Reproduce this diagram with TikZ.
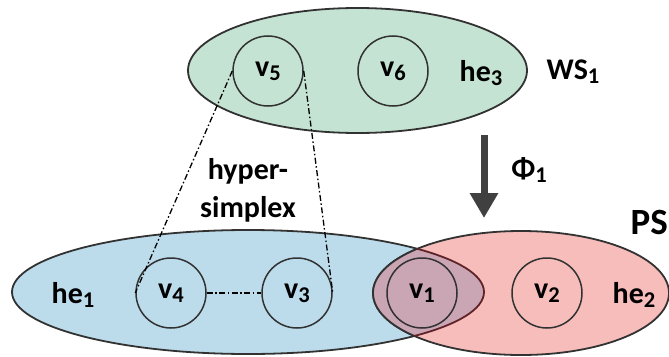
\documentclass[tikz,border=0pt]{standalone}
\usepackage{fontspec}
\setmainfont{Carlito}
\usetikzlibrary{shapes.geometric,arrows.meta}

\definecolor{wsgreen}{RGB}{197,227,211}
\definecolor{heblue}{RGB}{188,220,236}
\definecolor{hered}{RGB}{246,189,187}
\definecolor{hemix}{RGB}{202,166,180}
\definecolor{edgegray}{RGB}{50,50,50}
\definecolor{edgered}{RGB}{95,35,40}
\definecolor{arrowgray}{RGB}{64,64,64}

% lowered, smaller index digit
\newcommand\idx[1]{\raisebox{-0.28ex}{\scalebox{0.75}{#1}}}

\tikzset{
  lbl/.style={font=\bfseries\fontsize{30}{36}\selectfont, inner sep=0pt},
  hedge/.style={ellipse, draw=edgegray, line width=1.8pt, inner sep=0pt},
  vertex/.style={circle, draw=edgegray, line width=1.5pt, minimum size=70pt, inner sep=0pt,
                 font=\bfseries\fontsize{30}{36}\selectfont},
  simplexline/.style={line width=1.3pt, black, dash pattern=on 6pt off 2.5pt on 1.5pt off 2.5pt},
}

\begin{document}
\begin{tikzpicture}[x=1pt,y=-1pt]
\useasboundingbox (0,0) rectangle (669,356);

% hyperedges
\node[hedge, fill=wsgreen, minimum width=339pt, minimum height=125pt] (he3box) at (357.5,70.5) {};
\node[hedge, fill=heblue, minimum width=472pt, minimum height=124pt] (he1box) at (248,292) {};
\node[hedge, fill=hered, minimum width=296pt, minimum height=124pt] (he2box) at (521,293) {};

% shared part of he1 and he2
\begin{scope}
  \clip (he1box.center) ellipse [x radius=236pt, y radius=62pt];
  \fill[hemix] (he2box.center) ellipse [x radius=148pt, y radius=62pt];
  \draw[edgegray, line width=1.8pt] (he2box.center) ellipse [x radius=148pt, y radius=62pt];
\end{scope}
\begin{scope}
  \clip (he2box.center) ellipse [x radius=148pt, y radius=62pt];
  \draw[edgered, line width=1.8pt] (he1box.center) ellipse [x radius=236pt, y radius=62pt];
\end{scope}

% vertices
\node[vertex] (v5) at (268,71) {v\idx{5}};
\node[vertex] (v6) at (393,71) {v\idx{6}};
\node[vertex] (v4) at (171,293) {v\idx{4}};
\node[vertex] (v3) at (297,293) {v\idx{3}};
\node[vertex] (v1) at (422,293) {v\idx{1}};
\node[vertex] (v2) at (547,293) {v\idx{2}};

% hyperedge and space labels
\node[lbl] (he3) at (481,73) {he\idx{3}};
\node[lbl] (he1) at (73,295) {he\idx{1}};
\node[lbl] (he2) at (634,295) {he\idx{2}};
\node[lbl] (ws1) at (573,72) {WS\idx{1}};
\node[lbl, anchor=east, font=\bfseries\fontsize{37}{40}\selectfont] (ps) at (668,222) {PS};
\node[lbl] (phi1) at (529,170) {Φ\idx{1}};
\node[lbl, align=center, font=\bfseries\fontsize{30}{38}\selectfont] (hs) at (248,190) {hyper-\\simplex};

% hyper-simplex links
\draw[simplexline] (v5.west) -- (v4.west);
\draw[simplexline] (v5.east) -- (v3.east);
\draw[simplexline] (v4.east) -- (v3.west);

% mapping arrow
\coordinate (phiTop) at (484,135);
\coordinate (phiTip) at (484,218);
\draw[arrowgray, line width=7pt, -{Triangle[width=27pt,length=25pt]}] (phiTop) -- (phiTip);
\end{tikzpicture}
\end{document}
